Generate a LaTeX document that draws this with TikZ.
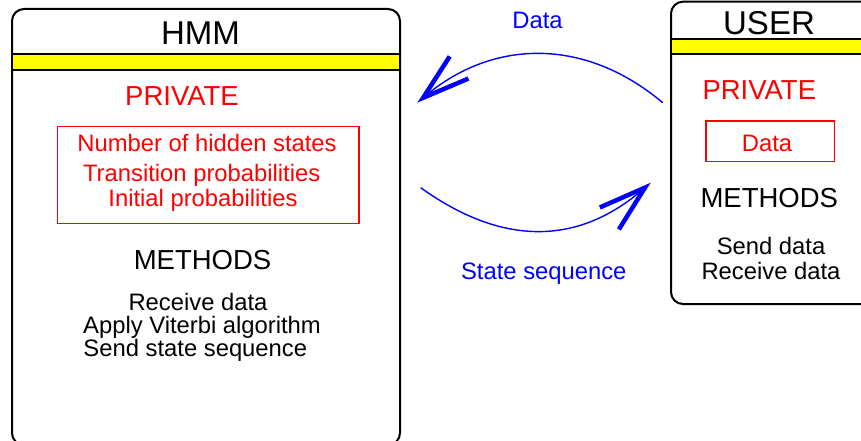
\documentclass[tikz,border=0pt]{standalone}
\usepackage{fontspec}
\setmainfont{Liberation Sans}
\usetikzlibrary{arrows.meta}
\definecolor{pred}{RGB}{255,0,0}
\definecolor{pblue}{RGB}{0,0,255}
\definecolor{pyel}{RGB}{255,255,0}
\tikzset{
  txt/.style={inner sep=0pt, anchor=base},
  titletxt/.style={txt, font=\fontsize{33}{36}\selectfont},
  headtxt/.style={txt, font=\fontsize{27.5}{30}\selectfont},
  bodytxt/.style={txt, font=\fontsize{23.8}{28}\selectfont},
  frame/.style={draw=black, line width=2pt, rounded corners=12pt, fill=white},
  band/.style={draw=black, line width=2pt, fill=pyel},
  privbox/.style={draw=pred, line width=1.3pt, inner sep=0pt},
  flow/.style={draw=pblue, line width=1.4pt,
    -{Straight Barb[sharp, length=47pt, width=29pt, line width=4.5pt]}},
}
\begin{document}
\begin{tikzpicture}[x=1pt,y=-1pt]
\useasboundingbox (0,0) rectangle (861,441);
\clip (0,0) rectangle (861,441);
% HMM class box
\draw[frame] (12,9) rectangle (400,445);
\draw[band] (12,54) rectangle (400,70);
\node[titletxt] (hmm) at (200.5,45) {HMM};
\node[headtxt, text=pred] (hpriv) at (182,106) {PRIVATE};
\node[privbox, minimum width=301.7pt, minimum height=96.6pt] (hbox) at (208.15,175) {};
\node[bodytxt, text=pred] (h1) at (207,151) {Number of hidden states};
\node[bodytxt, text=pred] (h2) at (201.7,181.7) {Transition probabilities};
\node[bodytxt, text=pred] (h3) at (203,206.7) {Initial probabilities};
\node[headtxt] (hmeth) at (202.5,269.3) {METHODS};
\node[bodytxt] (m1) at (198,310) {Receive data};
\node[bodytxt] (m2) at (202,333.3) {Apply Viterbi algorithm};
\node[bodytxt] (m3) at (195.3,356.7) {Send state sequence};
% USER class box
\draw[frame] (671,1.7) rectangle (890,304);
\draw[band] (671,39.3) rectangle (890,54.3);
\node[titletxt] (user) at (769,35) {USER};
\node[headtxt, text=pred] (upriv) at (759.3,100) {PRIVATE};
\node[privbox, minimum width=128.3pt, minimum height=40.7pt] (ubox) at (770.15,141.35) {};
\node[bodytxt, text=pred] (udata) at (767,151.7) {Data};
\node[headtxt] (umeth) at (769.3,207.7) {METHODS};
\node[bodytxt] (u1) at (771,254.3) {Send data};
\node[bodytxt] (u2) at (771,279.3) {Receive data};
% messages
\coordinate (d1) at (662.7,102.7);
\coordinate (d2) at (417.3,102.7);
\draw[flow] (d1) .. controls (586,38) and (494,38) .. (d2);
\node[bodytxt, text=pblue] (ldata) at (537.5,28.3) {Data};
\coordinate (s1) at (420.7,187.7);
\coordinate (s2) at (650.7,182.7);
\draw[flow] (s1) .. controls (502,246) and (577.5,246) .. (s2);
\node[bodytxt, text=pblue] (lstate) at (543.8,279.3) {State sequence};
\end{tikzpicture}
\end{document}
